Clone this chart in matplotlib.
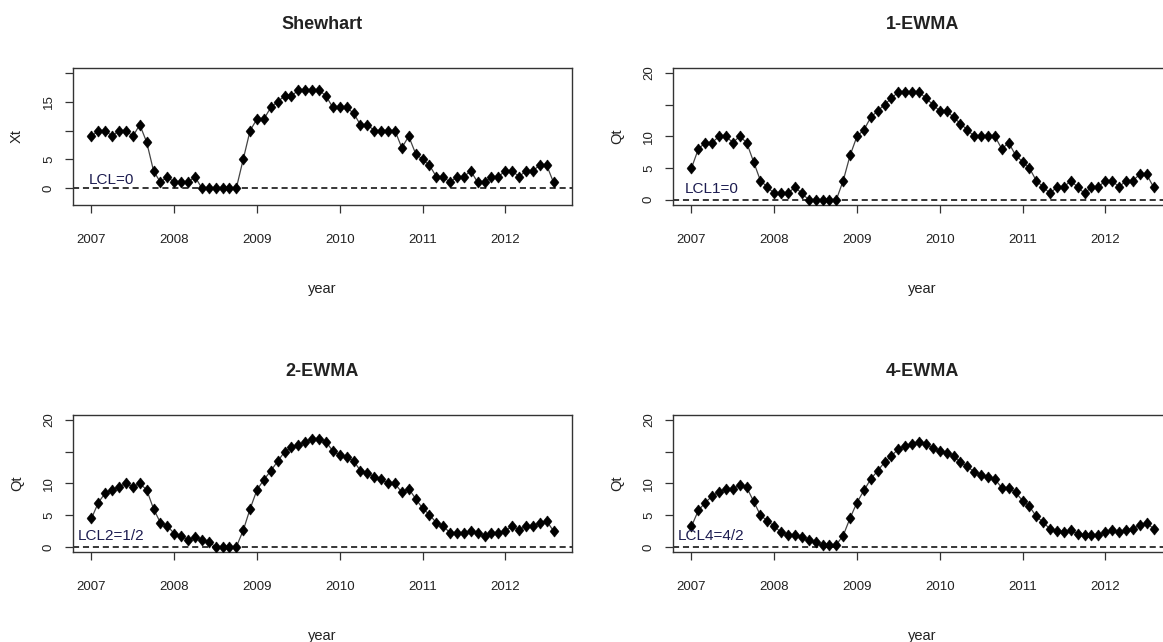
#================================================================================
# Control charts: Shewhart and k-EWMA statistics, monthly 2007-2012
#================================================================================

import numpy as np
import matplotlib
matplotlib.use("Agg")
import matplotlib.pyplot as plt

#================================================================================
# Data

# Month index from January 2007 to August 2012
months = np.arange(68)
years = 2007 + months / 12.0

xt_shewhart = [9, 10, 10, 9, 10, 10, 9, 11, 8, 3, 1, 2, 1, 1, 1, 2, 0, 0, 0, 0, 0, 0,
               5, 10, 12, 12, 14, 15, 16, 16, 17, 17, 17, 17, 16, 14, 14, 14, 13, 11,
               11, 10, 10, 10, 10, 7, 9, 6, 5, 4, 2, 2, 1, 2, 2, 3, 1, 1, 2, 2, 3, 3,
               2, 3, 3, 4, 4, 1]

qt_ewma1 = [5, 8, 9, 9, 10, 10, 9, 10, 9, 6, 3, 2, 1, 1, 1, 2, 1, 0, 0, 0, 0, 0,
            3, 7, 10, 11, 13, 14, 15, 16, 17, 17, 17, 17, 16, 15, 14, 14, 13, 12,
            11, 10, 10, 10, 10, 8, 9, 7, 6, 5, 3, 2, 1, 2, 2, 3, 2, 1, 2, 2, 3, 3,
            2, 3, 3, 4, 4, 2]

qt_ewma2 = [4.5, 7, 8.5, 9, 9.5, 10, 9.5, 10, 9, 6, 3.8, 3.3, 2.1, 1.7, 1.15, 1.5,
            1.15, 0.8, 0, 0, 0, 0,
            2.6, 6, 9, 10.6, 12, 13.5, 15, 15.7, 16.1, 16.5, 17, 17, 16.6, 15.1,
            14.5, 14.1, 13.6, 12, 11.6, 11.1, 10.7, 10, 10, 8.6, 9.2, 7.6, 6.1, 5.1,
            3.8, 3.3, 2.2, 2.2, 2.2, 2.5, 2.2, 1.7, 2.2, 2.2, 2.5, 3.3, 2.7, 3.3,
            3.3, 3.8, 4.1, 2.5]

qt_ewma4 = [3.25, 5.75, 7.0, 8.0, 8.7, 9.1, 9.1, 9.8, 9.4, 7.2, 5.0, 4.1, 3.25, 2.3,
            1.9, 1.9, 1.5, 1.05, 0.7, 0.25, 0.35, 0.35, 1.8, 4.55, 7.0, 8.9, 10.7,
            12.0, 13.35, 14.35, 15.45, 15.9, 16.3, 16.6, 16.3, 15.55, 15.1, 14.75,
            14.35, 13.35, 12.7, 11.8, 11.4, 10.95, 10.7, 9.3, 9.3, 8.6, 7.3, 6.4,
            4.8, 3.9, 2.8, 2.45, 2.3, 2.6, 2.1, 1.85, 1.85, 1.85, 2.3, 2.6, 2.3, 2.6,
            2.8, 3.5, 3.75, 2.9]

titles = ["Shewhart", "1-EWMA", "2-EWMA", "4-EWMA"]
ylabels = ["Xt", "Qt", "Qt", "Qt"]
lcl_labels = ["LCL=0", "LCL1=0", "LCL2=1/2", "LCL4=4/2"]
year_ticks = [2007, 2008, 2009, 2010, 2011, 2012]
y_ticks = [0, 5, 10, 15, 20]

#================================================================================
# Style

plt.rcParams["font.family"] = ["Liberation Sans", "DejaVu Sans"]
TEXT = "#222222"
DIAMOND = [(0, 1), (0.8, 0), (0, -1), (-0.8, 0), (0, 1)]


def draw_panel(ax, values, title, ylabel, lcl, ylim, tick_labels, lcl_y):
    ax.plot(years, values, color="#444444", lw=0.9, marker=DIAMOND, ms=8,
            mfc="black", mec="black", mew=0.4, zorder=3)
    ax.axhline(0, color="black", lw=1.1, ls=(0, (4, 2.5)), zorder=2)
    ax.text(2007.24, lcl_y, lcl, ha="center", va="center", fontsize=11,
            color="#1c1c50")

    ax.set_xlim(2006.777, 2012.806)
    ax.set_ylim(*ylim)
    ax.set_xticks(year_ticks)
    ax.set_xticklabels([str(y) for y in year_ticks])
    ax.set_yticks(y_ticks)
    ax.set_yticklabels(tick_labels, rotation=90, va="center")

    for s in ax.spines.values():
        s.set_color("#333333")
        s.set_linewidth(1.0)
    ax.tick_params(direction="out", length=6, width=0.9, color="#333333",
                   labelcolor=TEXT, labelsize=9.5)
    ax.tick_params(axis="x", pad=15)
    ax.tick_params(axis="y", pad=7)

    ax.text(0.5, 1.314, title, transform=ax.transAxes, ha="center", va="center",
            fontsize=13, fontweight="bold", color=TEXT)
    ax.set_xlabel("year", fontsize=10.5, color=TEXT)
    ax.xaxis.set_label_coords(0.5, -0.56)
    ax.set_ylabel(ylabel, fontsize=10.5, color=TEXT, va="center")
    ax.yaxis.set_label_coords(-0.112, 0.5)


#================================================================================
# Figure

fig = plt.figure(figsize=(11.63, 6.42), dpi=100)

w, h = 0.429, 0.2134
positions = [(0.0628, 0.681), (0.5787, 0.681), (0.0628, 0.1402), (0.5787, 0.1402)]
series = [xt_shewhart, qt_ewma1, qt_ewma2, qt_ewma4]

for i in range(4):
    ax = fig.add_axes([positions[i][0], positions[i][1], w, h])
    if i == 0:
        ylim = (-2.88, 20.88)
        labels = ["0", "5", "", "15", ""]
        lcl_y = 1.5
    else:
        ylim = (-0.8, 20.8)
        labels = ["0", "5", "10", "", "20"]
        lcl_y = 1.65
    draw_panel(ax, series[i], titles[i], ylabels[i], lcl_labels[i], ylim, labels, lcl_y)

fig.savefig("out.png", dpi=100)
